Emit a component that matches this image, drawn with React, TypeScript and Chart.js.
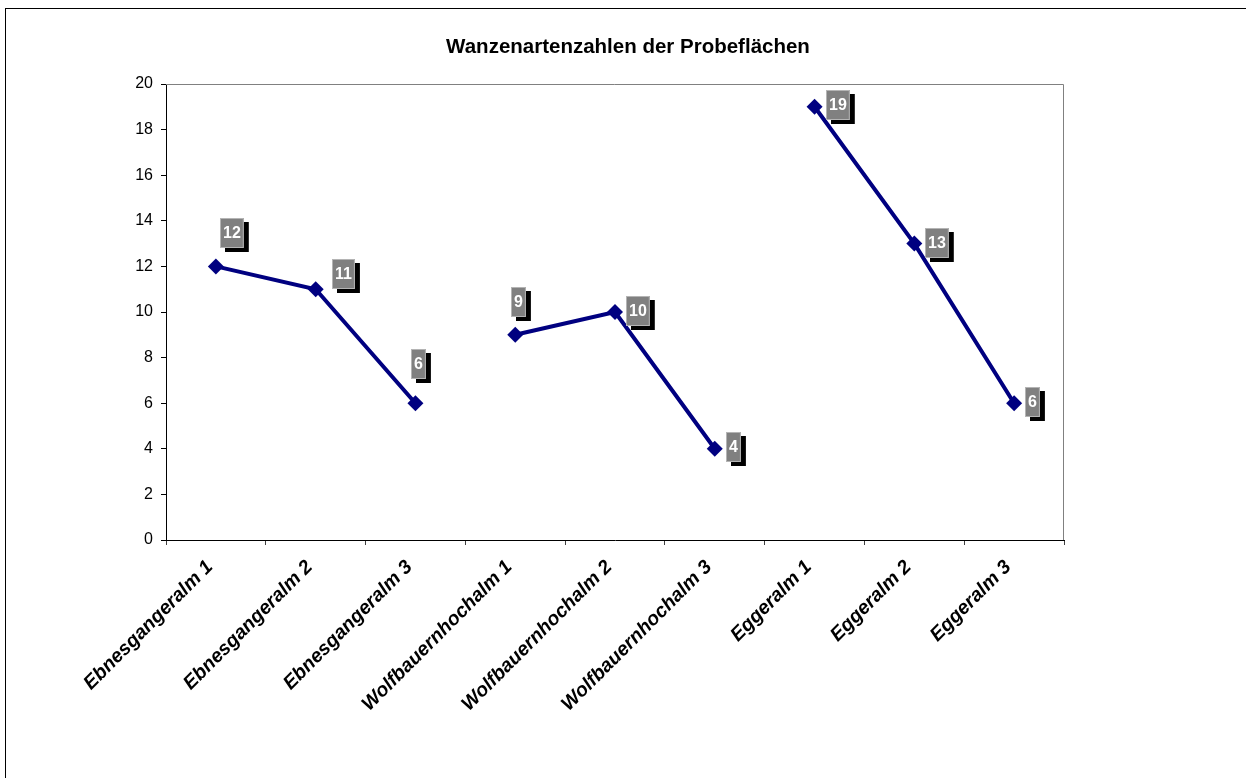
import React, { useEffect, useRef } from "react";
import { Chart, registerables } from "chart.js";

Chart.register(...registerables);

// Sample plots along the x axis
const categories = [
  "Ebnesgangeralm 1",
  "Ebnesgangeralm 2",
  "Ebnesgangeralm 3",
  "Wolfbauernhochalm 1",
  "Wolfbauernhochalm 2",
  "Wolfbauernhochalm 3",
  "Eggeralm 1",
  "Eggeralm 2",
  "Eggeralm 3",
];

// Bug species counts per alp (three plots each)
const ebnesgangeralm = [12, 11, 6];
const wolfbauernhochalm = [9, 10, 4];
const eggeralm = [19, 13, 6];

const yTicks = [0, 2, 4, 6, 8, 10, 12, 14, 16, 18, 20];

// Placement of each value box: top-left corner relative to its point, in px
const labelOffsets: [number, number][] = [
  [4, -48],
  [16, -30],
  [-4, -54],
  [-4, -48],
  [11, -16],
  [11, -17],
  [11, -17],
  [11, -16],
  [11, -16],
];

const FONT = "'Liberation Sans', Arial, Helvetica, sans-serif";
const LINE_COLOR = "#000080";

// Pads a group's values into the full category range, leaving gaps elsewhere
function placeGroup(values: number[], start: number): (number | null)[] {
  return categories.map((_, i) =>
    i >= start && i < start + values.length ? values[i - start] : null
  );
}

const plotFrame = {
  id: "plotFrame",
  beforeDatasetsDraw(chart: any) {
    const { ctx, chartArea } = chart;
    ctx.save();
    ctx.strokeStyle = "#808080";
    ctx.lineWidth = 1;
    ctx.beginPath();
    ctx.moveTo(chartArea.left, chartArea.top + 0.5);
    ctx.lineTo(chartArea.right - 0.5, chartArea.top + 0.5);
    ctx.lineTo(chartArea.right - 0.5, chartArea.bottom);
    ctx.stroke();
    ctx.restore();
  },
};

// Slanted category names under the x axis
const categoryLabels = {
  id: "categoryLabels",
  afterDraw(chart: any) {
    const { ctx } = chart;
    const xScale = chart.scales.x;
    ctx.save();
    ctx.font = `italic bold 19.5px ${FONT}`;
    ctx.fillStyle = "#000000";
    ctx.textAlign = "right";
    ctx.textBaseline = "middle";
    chart.data.labels.forEach((label: string, i: number) => {
      const x = xScale.getPixelForTick(i) - 6;
      const y = xScale.top + 24;
      ctx.save();
      ctx.translate(x, y);
      ctx.rotate(-Math.PI / 4);
      ctx.fillText(label, 0, 0);
      ctx.restore();
    });
    ctx.restore();
  },
};

const valueBoxes = {
  id: "valueBoxes",
  afterDatasetsDraw(chart: any) {
    const { ctx } = chart;
    ctx.save();
    ctx.font = `bold 16px ${FONT}`;
    chart.data.datasets.forEach((ds: any, di: number) => {
      const meta = chart.getDatasetMeta(di);
      ds.data.forEach((v: number | null, i: number) => {
        if (v === null) return;
        const pt = meta.data[i];
        const [ox, oy] = labelOffsets[i];
        const text = String(v);
        const w = ctx.measureText(text).width + 6;
        const h = 30;
        const x = Math.round(pt.x + ox);
        const y = Math.round(pt.y + oy);
        ctx.fillStyle = "#000000";
        ctx.fillRect(x + 5, y + 4, w, h);
        ctx.fillStyle = "#808080";
        ctx.fillRect(x, y, w, h);
        ctx.strokeStyle = "#b4b4b4";
        ctx.lineWidth = 1;
        ctx.strokeRect(x + 0.5, y + 0.5, w - 1, h - 1);
        ctx.fillStyle = "#ffffff";
        ctx.textAlign = "center";
        ctx.textBaseline = "middle";
        ctx.fillText(text, x + w / 2, y + h / 2 + 1);
      });
    });
    ctx.restore();
  },
};

export default function App() {
  const canvasRef = useRef<HTMLCanvasElement | null>(null);

  useEffect(() => {
    if (!canvasRef.current) return;
    const lineStyle = {
      borderColor: LINE_COLOR,
      backgroundColor: LINE_COLOR,
      borderWidth: 4,
      pointStyle: "rectRot" as const,
      pointRadius: 8,
      pointBorderWidth: 0,
      pointBackgroundColor: LINE_COLOR,
      spanGaps: false,
      tension: 0,
    };
    const chart = new Chart(canvasRef.current, {
      type: "line",
      data: {
        labels: categories,
        datasets: [
          { label: "Ebnesgangeralm", data: placeGroup(ebnesgangeralm, 0), ...lineStyle },
          { label: "Wolfbauernhochalm", data: placeGroup(wolfbauernhochalm, 3), ...lineStyle },
          { label: "Eggeralm", data: placeGroup(eggeralm, 6), ...lineStyle },
        ],
      },
      options: {
        animation: false,
        responsive: false,
        devicePixelRatio: 1,
        layout: { padding: { left: 10, right: 0, top: 0, bottom: 0 } },
        plugins: {
          legend: { display: false },
          tooltip: { enabled: false },
          title: {
            display: true,
            text: "Wanzenartenzahlen der Probeflächen",
            color: "#000000",
            font: { family: FONT, size: 20.5, weight: "bold" },
            padding: { top: 35, bottom: 24.4 },
          },
        },
        scales: {
          x: {
            type: "category",
            offset: true,
            grid: {
              offset: true,
              drawOnChartArea: false,
              drawTicks: true,
              tickLength: 5,
              color: "#404040",
            },
            border: { display: true, color: "#000000", width: 1 },
            ticks: { display: false, autoSkip: false },
            afterFit: (s: any) => {
              s.height = 238;
            },
          },
          y: {
            min: 0,
            max: 20,
            afterBuildTicks: (s: any) => {
              s.ticks = yTicks.map((v) => ({ value: v }));
            },
            grid: {
              drawOnChartArea: false,
              drawTicks: true,
              tickLength: 5,
              color: "#000000",
            },
            border: { display: true, color: "#000000", width: 1 },
            ticks: {
              color: "#000000",
              font: { family: FONT, size: 16 },
              padding: 8,
            },
            afterFit: (s: any) => {
              s.width = 156;
            },
          },
          yRight: {
            position: "right",
            display: true,
            grid: { display: false, drawTicks: false },
            border: { display: false },
            ticks: { display: false },
            afterFit: (s: any) => {
              s.width = 182;
            },
          },
        },
      },
      plugins: [plotFrame, valueBoxes, categoryLabels],
    });
    return () => chart.destroy();
  }, []);

  return (
    <div>
      <div
        style={{
          position: "fixed",
          left: 5,
          top: 8,
          width: 1300,
          height: 900,
          border: "1px solid #000000",
          boxSizing: "border-box",
          pointerEvents: "none",
        }}
      />
      <canvas
        ref={canvasRef}
        width={1246}
        height={778}
        style={{ position: "fixed", left: 0, top: 0, width: 1246, height: 778 }}
      />
    </div>
  );
}
